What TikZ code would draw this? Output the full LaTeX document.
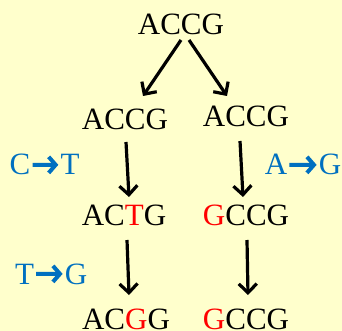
\documentclass[tikz,border=0pt]{standalone}
\usepackage{fontspec}
\setmainfont{Liberation Serif}
\usetikzlibrary{arrows.meta,calc}
\definecolor{paper}{RGB}{255,255,204}
\definecolor{mutblue}{RGB}{0,112,192}
\definecolor{mutred}{RGB}{255,0,0}
\newcommand{\mt}[1]{\textcolor{mutred}{#1}}
\tikzset{
  seq/.style={inner sep=0pt, anchor=base, font=\fontsize{31}{37}\selectfont},
  lbl/.style={seq, text=mutblue},
  step arrow/.style={line width=3.2pt, -{Straight Barb[length=9pt,width=18pt]}},
  mut arrow/.style={draw=mutblue, line width=4pt, shorten <=2pt, shorten >=2pt,
                    -{Straight Barb[length=7pt,width=16pt]}}
}
\begin{document}
\begin{tikzpicture}[x=1pt,y=-1pt]
  \path[fill=paper] (0,0) rectangle (342,331);
  % sequences
  \node[seq] (top) at (181,35)  {ACCG};
  \node[seq] (l1)  at (125,130) {ACCG};
  \node[seq] (r1)  at (246,127) {ACCG};
  \node[seq] (l2)  at (124,225) {AC\mt{T}G};
  \node[seq] (r2)  at (246,225) {\mt{G}CCG};
  \node[seq] (l3)  at (126,329) {AC\mt{G}G};
  \node[seq] (r3)  at (246,329) {\mt{G}CCG};
  % descent arrows
  \draw[step arrow] ($(top.base)+(0,5)$)  -- ($(l1.base)+(18,-34)$);
  \draw[step arrow] ($(top.base)+(8,5)$)  -- ($(r1.base)+(-19,-31)$);
  \draw[step arrow] ($(l1.base)+(1,12)$)  -- ($(l2.base)+(5,-28)$);
  \draw[step arrow] ($(r1.base)+(-6,14)$) -- ($(r2.base)+(-3,-28)$);
  \draw[step arrow] ($(l2.base)+(3,15)$)  -- ($(l3.base)+(3,-34)$);
  \draw[step arrow] ($(r2.base)+(1,15)$)  -- ($(r3.base)+(2,-34)$);
  % mutation labels
  \node[lbl] (m1a) at (20,175)  {C};
  \node[lbl] (m1b) at (70,175)  {T};
  \node[lbl] (m2a) at (276,175) {A};
  \node[lbl] (m2b) at (330,175) {G};
  \node[lbl] (m3a) at (24.5,284) {T};
  \node[lbl] (m3b) at (76,284)  {G};
  \draw[mut arrow] (m1a.east) -- (m1b.west);
  \draw[mut arrow] (m2a.east) -- (m2b.west);
  \draw[mut arrow] (m3a.east) -- (m3b.west);
\end{tikzpicture}
\end{document}
